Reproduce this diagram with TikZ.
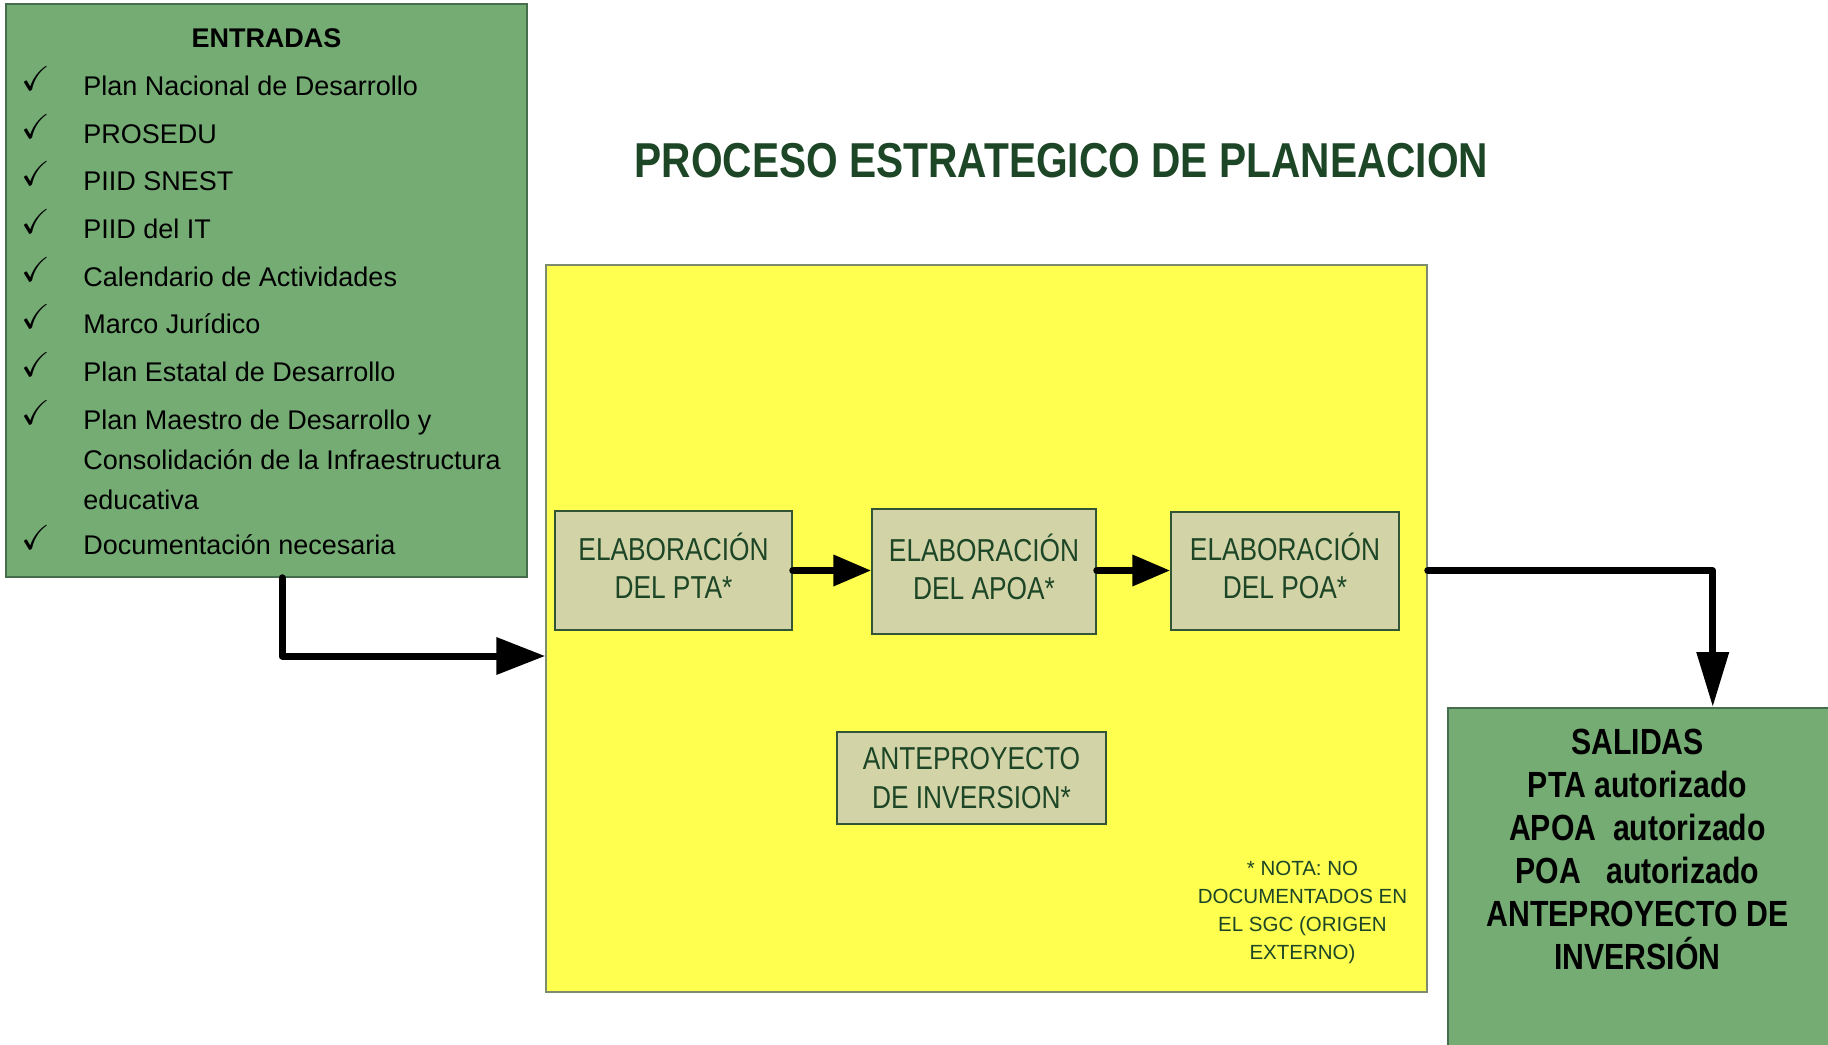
\documentclass[tikz,border=0pt]{standalone}
\usepackage{amssymb}
\usepackage{fontspec}
\setmainfont{Liberation Sans}
\newfontfamily\narrowfont[FakeStretch=0.83]{Liberation Sans}
\usetikzlibrary{arrows.meta}
\definecolor{gfill}{RGB}{116,172,116}
\definecolor{gborder}{RGB}{70,110,78}
\definecolor{pfill}{RGB}{211,211,168}
\definecolor{pborder}{RGB}{50,85,55}
\definecolor{dkgreen}{RGB}{28,70,38}
\definecolor{yfill}{RGB}{255,255,80}
\definecolor{yborder}{RGB}{125,140,110}
\tikzset{
  gbox/.style={draw=gborder, fill=gfill, line width=0.75pt, inner sep=0pt},
  pbox/.style={draw=pborder, fill=pfill, line width=0.75pt, inner sep=0pt, align=center,
    text=dkgreen, font=\narrowfont\fontsize{15.85}{19}\selectfont},
  listtxt/.style={anchor=base west, inner sep=0pt, font=\fontsize{13.5}{20}\selectfont},
  chk/.style={anchor=base west, inner sep=0pt, font=\fontsize{17.28}{17.28}\selectfont},
  conn/.style={line width=3.5pt, line join=round, line cap=round},
  bigtip/.style={-{Triangle[length=24.5pt,width=18pt]}},
  smalltip/.style={-{Triangle[length=19pt,width=15pt]}},
  outtip/.style={-{Triangle[length=27.5pt,width=15.5pt]}}
}
\begin{document}
\begin{tikzpicture}[x=0.5pt,y=-0.5pt]
\useasboundingbox (0,0) rectangle (1828,1045);
\clip (0,0) rectangle (1828,1045);
\fill[white] (0,0) rectangle (1828,1045);

% title
\node[anchor=base, inner sep=0pt, text=dkgreen, font=\narrowfont\bfseries\fontsize{24.5}{28}\selectfont] (title) at (1061.5,177) {PROCESO ESTRATEGICO DE PLANEACION};

% entradas
\node[gbox, minimum width=260.5pt, minimum height=286.5pt] (ent) at (266.5,290.5) {};
\node[anchor=base, inner sep=0pt, font=\bfseries\fontsize{13.5}{16}\selectfont] (enttitle) at (266.5,47) {ENTRADAS};
\node[chk] (c1) at (21,90) {$\checkmark$};
\node[listtxt] (i1) at (83,95) {Plan Nacional de Desarrollo};
\node[chk] (c2) at (21,138) {$\checkmark$};
\node[listtxt] (i2) at (83,143) {PROSEDU};
\node[chk] (c3) at (21,185) {$\checkmark$};
\node[listtxt] (i3) at (83,190) {PIID SNEST};
\node[chk] (c4) at (21,233) {$\checkmark$};
\node[listtxt] (i4) at (83,238) {PIID del IT};
\node[chk] (c5) at (21,281) {$\checkmark$};
\node[listtxt] (i5) at (83,286) {Calendario de Actividades};
\node[chk] (c6) at (21,328) {$\checkmark$};
\node[listtxt] (i6) at (83,333) {Marco Jurídico};
\node[chk] (c7) at (21,376) {$\checkmark$};
\node[listtxt] (i7) at (83,381) {Plan Estatal de Desarrollo};
\node[chk] (c8) at (21,424) {$\checkmark$};
\node[listtxt, anchor=north west, align=left] (i8) at (83,409.7) {Plan Maestro de Desarrollo y\\Consolidación de la Infraestructura\\educativa};
\node[chk] (c9) at (21,549) {$\checkmark$};
\node[listtxt] (i9) at (83,554) {Documentación necesaria};

% process area
\node[draw=yborder, fill=yfill, line width=0.75pt, inner sep=0pt, minimum width=440.5pt, minimum height=363.5pt] (yel) at (986.5,628.5) {};
\node[pbox, minimum width=118.5pt, minimum height=59.5pt] (pta) at (673.5,570.5) {ELABORACIÓN\\DEL PTA*\rule[-5.25pt]{0pt}{5.25pt}};
\node[pbox, minimum width=112pt, minimum height=62.5pt] (apoa) at (984,571.5) {ELABORACIÓN\\DEL APOA*\rule[-5.25pt]{0pt}{5.25pt}};
\node[pbox, minimum width=114pt, minimum height=59pt] (poa) at (1285,571) {ELABORACIÓN\\DEL POA*\rule[-5.25pt]{0pt}{5.25pt}};
\node[pbox, minimum width=134.5pt, minimum height=46pt, font=\narrowfont\fontsize{15.85}{19.5}\selectfont] (ante) at (971.5,778) {ANTEPROYECTO\\DE INVERSION*};
\node[anchor=north, inner sep=0pt, align=center, text=dkgreen, font=\fontsize{10.25}{14}\selectfont] (nota) at (1302.5,860.3) {* NOTA: NO\\DOCUMENTADOS EN\\EL SGC (ORIGEN\\EXTERNO)};

% salidas
\node[gbox, anchor=north west, minimum width=194pt, minimum height=171.5pt] (sal) at (1447,707) {};
\node[anchor=north, inner sep=0pt, align=center, font=\narrowfont\bfseries\fontsize{18.2}{21.5}\selectfont] (saltext) at (1637.5,729) {SALIDAS\\PTA autorizado\\APOA\ \ autorizado\\POA\ \ \ autorizado\\ANTEPROYECTO DE\\INVERSIÓN};

% connectors
\draw[conn, bigtip] ([xshift=7.75pt]ent.south) |- ([yshift=-13.75pt]yel.west);
\draw[conn, smalltip] (pta.east) -- (pta.east -| apoa.west);
\draw[conn, smalltip] (apoa.east |- pta.east) -- (poa.west |- pta.east);
\draw[conn, outtip] (yel.east |- pta.east) -| ([xshift=35.5pt]sal.north);
\end{tikzpicture}
\end{document}
